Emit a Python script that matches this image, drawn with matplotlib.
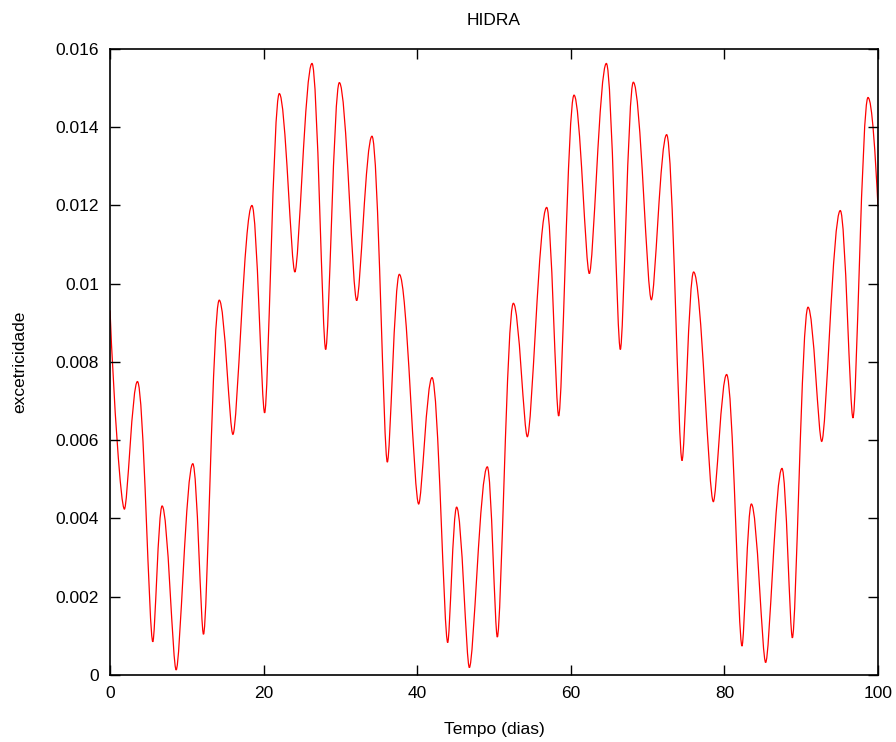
import matplotlib
matplotlib.use("Agg")
import matplotlib.pyplot as plt
from matplotlib.path import Path
from matplotlib.patches import PathPatch
from matplotlib.ticker import FuncFormatter

# Turning points of the eccentricity curve (time in days, eccentricity)
tempo = [0.0, 1.87, 3.57, 5.57, 6.78, 8.61, 10.78, 12.17, 14.22, 16.0,
         18.48, 20.13, 22.04, 24.07, 26.30, 28.08, 29.86, 32.12, 34.11, 36.11,
         37.67, 40.19, 41.93, 43.97, 45.13, 46.79, 49.13, 50.43, 52.52, 54.34,
         56.86, 58.42, 60.42, 62.41, 64.63, 66.45, 68.14, 70.49, 72.48, 74.48,
         75.99, 78.56, 80.29, 82.29, 83.51, 85.37, 87.50, 88.85, 90.89, 92.67,
         95.09, 96.74, 98.70, 100.0]
excentricidade = [0.00932, 0.00424, 0.00750, 0.00085, 0.00432, 0.00013, 0.00540, 0.00104, 0.00958, 0.00615,
                  0.01200, 0.00670, 0.01486, 0.01030, 0.01563, 0.00832, 0.01514, 0.00957, 0.01377, 0.00544,
                  0.01024, 0.00437, 0.00760, 0.00083, 0.00429, 0.00019, 0.00532, 0.00097, 0.00950, 0.00609,
                  0.01195, 0.00662, 0.01482, 0.01026, 0.01563, 0.00832, 0.01515, 0.00959, 0.01381, 0.00548,
                  0.01030, 0.00443, 0.00768, 0.00074, 0.00437, 0.00032, 0.00528, 0.00095, 0.00940, 0.00597,
                  0.01187, 0.00657, 0.01476, 0.01197]

x_ticks = [0, 20, 40, 60, 80, 100]
y_ticks = [0, 0.002, 0.004, 0.006, 0.008, 0.01, 0.012, 0.014, 0.016]

plt.rcParams["font.family"] = ["Liberation Sans", "DejaVu Sans"]

fig = plt.figure(figsize=(8.96, 7.42), dpi=100)
ax = fig.add_axes([0.1228, 0.0903, 0.8571, 0.8437])


def handle(i):
    """Bezier handle length (fraction of segment) at turning point i."""
    n = len(tempo)
    if i == 0 or i == n - 1:
        return None
    is_max = excentricidade[i] > excentricidade[i - 1]
    return 0.40 if is_max else 0.24


# smooth curve through the turning points: horizontal tangents at extrema
verts = [(tempo[0], excentricidade[0])]
codes = [Path.MOVETO]
for i in range(len(tempo) - 1):
    t0, t1 = tempo[i], tempo[i + 1]
    e0, e1 = excentricidade[i], excentricidade[i + 1]
    dt = t1 - t0
    k0, k1 = handle(i), handle(i + 1)
    c0 = (t0 + k0 * dt, e0) if k0 is not None else (t0 + 0.25 * dt, e0 + 0.45 * (e1 - e0))
    c1 = (t1 - k1 * dt, e1) if k1 is not None else (t1 - 0.25 * dt, e1 - 0.45 * (e1 - e0))
    verts += [c0, c1, (t1, e1)]
    codes += [Path.CURVE4] * 3

curve = PathPatch(Path(verts, codes), fill=False, edgecolor="#ff0000", lw=0.9)
ax.add_patch(curve)

ax.set_xlim(0, 100)
ax.set_ylim(0, 0.016)
ax.set_xticks(x_ticks)
ax.set_yticks(y_ticks)
ax.yaxis.set_major_formatter(FuncFormatter(lambda v, p: "%g" % v))
ax.tick_params(direction="in", length=7, width=1.0, top=True, right=True,
               labelsize=12.5, pad=8)
for s in ax.spines.values():
    s.set_linewidth(1.2)

ax.set_title("HIDRA", fontsize=12.5, pad=17)
ax.set_xlabel("Tempo (dias)", fontsize=12.5, labelpad=15)
ax.set_ylabel("excetricidade", fontsize=12.5, labelpad=20)

fig.savefig("out.png", dpi=100, facecolor="white")
